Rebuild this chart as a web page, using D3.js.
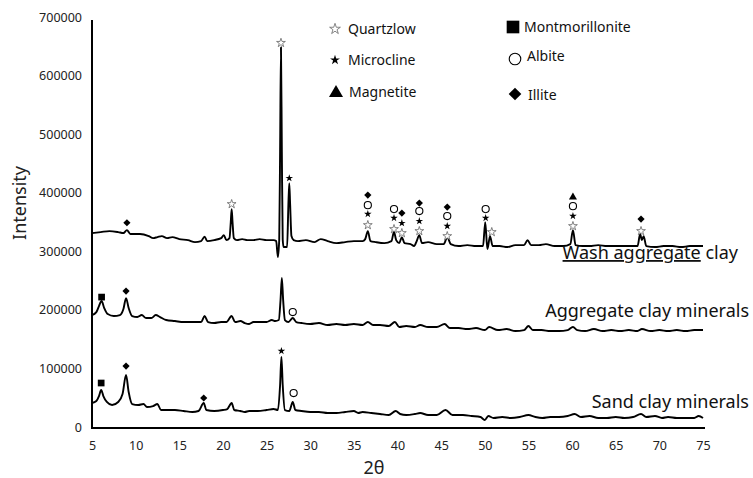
<!DOCTYPE html>
<html>
<head>
<meta charset="utf-8">
<script src="https://cdn.jsdelivr.net/npm/d3@7"></script>
<style>
  html, body { margin: 0; padding: 0; background: #fff; }
  svg { display: block; font-family: "Noto Sans", "Open Sans", sans-serif; }
</style>
</head>
<body>
<svg id="chart" width="753" height="478"></svg>
<script>
// ---------- DATA ----------
const xTicks = [5, 10, 15, 20, 25, 30, 35, 40, 45, 50, 55, 60, 65, 70, 75];
const yTicks = [0, 100000, 200000, 300000, 400000, 500000, 600000, 700000];

const seriesNames = ["Wash aggregate clay", "Aggregate clay minerals", "Sand clay minerals"];

// [2θ, intensity]
const washClay = [
  [5.0,331100],[6.0,332800],[7.0,334500],[8.0,332800],[8.6,331100],[9.0,336200],[9.4,329400],
  [10.5,329400],[11.5,325900],[12.0,322500],[12.5,324200],[13.0,325900],[13.6,322500],[14.2,324200],
  [15.0,320800],[16.0,319100],[16.8,315700],[17.5,317400],[17.9,325000],[18.2,317400],[19.0,319100],
  [19.8,322500],[20.1,327600],[20.4,319100],[20.75,322500],[20.9,350000],[21.0,372000],[21.1,350000],[21.25,322500],
  [21.6,319100],[22.2,320800],[22.8,319100],[23.5,319100],[24.2,320800],[25.0,319100],[25.8,319100],
  [26.1,317400],[26.3,290100],[26.45,320000],[26.55,470000],[26.65,648500],[26.75,470000],[26.85,320000],
  [26.95,307200],[27.35,307200],[27.5,380000],[27.6,416400],[27.7,380000],[27.85,325900],
  [28.1,319100],[28.6,317400],[29.5,319100],[30.5,315700],[31.2,320800],[32.0,317400],[33.0,314000],
  [34.0,315700],[35.0,317400],[36.0,317400],[36.3,320800],[36.6,334500],[36.9,317400],[37.5,315700],
  [38.5,314000],[39.3,317400],[39.6,332800],[39.85,319100],[40.2,314000],[40.5,324200],[40.8,314000],
  [41.5,312300],[41.9,308900],[42.2,317400],[42.5,327600],[42.8,314000],[43.5,315700],[44.5,312300],
  [45.3,312300],[45.7,324200],[46.1,312300],[47.0,308900],[48.0,310600],[49.0,308900],[49.8,308900],
  [50.05,349800],[50.3,303800],[50.6,325900],[50.9,308900],[51.7,308900],[52.6,307200],[53.5,310600],
  [54.5,310600],[54.9,319100],[55.3,310600],[56.2,310600],[57.0,312300],[58.0,308900],[59.0,308900],
  [59.8,312300],[60.1,336200],[60.4,310600],[61.2,308900],[62.0,308900],[63.0,310600],[64.0,308900],
  [65.0,308900],[66.0,308900],[67.0,308900],[67.5,308900],[67.8,329400],[68.0,319100],[68.2,325900],
  [68.5,308900],[69.5,307200],[70.5,308900],[71.5,308900],[72.5,307200],[73.5,308900],[75.0,308900]
];

const aggregateClay = [
  [5.0,191100],[5.5,196200],[5.8,206500],[6.1,215000],[6.4,203100],[6.8,192800],[7.5,189400],
  [8.2,191100],[8.6,201400],[8.9,220100],[9.2,203100],[9.6,189400],[10.2,187700],[10.7,191100],
  [11.2,186000],[11.8,186000],[12.3,191100],[12.8,187700],[13.5,182600],[14.5,180900],[15.5,179200],
  [16.5,179200],[17.5,179200],[17.9,189400],[18.3,179200],[19.0,177500],[19.8,179200],[20.4,179200],
  [21.0,189400],[21.4,179200],[22.0,180900],[22.5,177500],[23.0,175800],[23.5,179200],[24.0,179200],
  [25.0,179200],[25.6,182600],[26.0,180900],[26.4,182600],[26.6,216700],[26.75,254300],[26.9,216700],
  [27.1,182600],[27.5,179200],[28.0,186000],[28.4,179200],[29.0,177500],[30.0,175800],[31.0,177500],
  [32.0,174100],[33.0,175800],[34.0,174100],[35.0,175800],[36.0,174100],[36.6,179200],[37.2,174100],
  [38.0,174100],[39.0,172400],[39.7,179200],[40.2,170700],[41.0,172400],[42.0,170700],[42.6,174100],
  [43.5,170700],[44.5,170700],[45.4,175800],[46.0,168900],[47.0,168900],[48.0,167200],[49.0,168900],
  [50.0,165500],[50.5,170700],[51.5,165500],[52.5,167200],[53.5,163800],[54.5,165500],[55.0,172400],
  [55.5,165500],[56.5,165500],[57.5,163800],[58.5,163800],[59.5,165500],[60.1,170700],[60.6,165500],
  [61.5,163800],[62.5,167200],[63.5,163800],[64.5,165500],[65.5,163800],[66.5,165500],[67.5,163800],
  [68.0,167200],[69.0,163800],[70.0,165500],[71.0,163800],[72.0,165500],[73.0,163800],[74.0,165500],
  [75.0,165500]
];

const sandClay = [
  [5.0,41000],[5.5,44400],[5.8,52900],[6.05,63100],[6.3,52900],[6.7,42700],[7.3,37500],[8.0,42700],
  [8.5,56300],[8.9,88700],[9.2,59700],[9.6,39200],[10.3,37500],[10.9,39200],[11.3,34100],[12.0,35800],
  [12.5,39200],[12.9,29000],[13.5,29000],[14.5,29000],[15.5,27300],[16.5,25600],[17.2,27300],
  [17.8,41000],[18.1,29000],[19.0,27300],[20.0,29000],[20.5,30700],[21.0,41000],[21.3,29000],
  [22.0,27300],[22.5,25600],[23.0,27300],[24.0,27300],[25.0,29000],[25.8,30700],[26.3,29000],
  [26.55,71700],[26.7,119500],[26.85,71700],[27.1,29000],[27.6,27300],[28.0,42700],[28.3,29000],
  [29.0,27300],[30.0,25600],[31.0,25600],[32.0,23900],[33.0,23900],[34.0,25600],[35.0,27300],
  [35.5,23900],[36.0,25600],[37.0,23900],[38.0,22200],[39.0,20500],[39.8,27300],[40.3,22200],
  [41.0,20500],[42.0,22200],[42.6,23900],[43.5,20500],[44.5,20500],[45.5,29000],[46.3,20500],
  [47.5,20500],[48.5,18800],[49.5,17100],[50.0,11900],[50.4,18800],[51.0,15400],[52.0,17100],
  [53.0,15400],[54.0,17100],[55.0,20500],[55.8,17100],[56.6,15400],[57.5,17100],[58.5,17100],
  [59.5,18800],[60.3,22200],[61.0,17100],[62.0,18800],[63.0,15400],[64.0,15400],[65.0,17100],
  [66.0,15400],[67.0,17100],[67.9,22200],[68.5,17100],[69.5,18800],[70.3,15400],[71.0,17100],
  [72.0,15400],[73.0,15400],[74.0,15400],[74.5,18800],[75.0,15400]
];

// phase markers: [type, 2θ, intensity]
const washMarkers = [
  ["illite",9.0,348700],["quartz",21.0,380600],["quartz",26.65,655800],["microcline",27.6,424900],
  ["quartz",36.6,344700],["microcline",36.6,363500],["albite",36.6,378800],["illite",36.6,395900],
  ["quartz",39.6,337900],["microcline",39.6,356700],["albite",39.6,372000],
  ["quartz",40.5,331100],["microcline",40.5,348100],["illite",40.5,365200],
  ["quartz",42.5,334500],["microcline",42.5,351500],["albite",42.5,368600],["illite",42.5,382300],
  ["quartz",45.7,325900],["microcline",45.7,343000],["albite",45.7,360100],["illite",45.7,375400],
  ["microcline",50.1,356700],["albite",50.1,372000],["quartz",50.8,332800],
  ["quartz",60.1,343000],["microcline",60.1,360100],["albite",60.1,377100],["magnetite",60.1,392500],
  ["quartz",67.9,334500],["illite",67.9,355000]
];
const aggregateMarkers = [
  ["montmorillonite",6.1,221800],["illite",8.9,232100],["albite",28.0,196200]
];
const sandMarkers = [
  ["montmorillonite",6.05,75100],["illite",8.9,104100],["illite",17.8,49500],
  ["microcline",26.7,129700],["albite",28.1,58000]
];

const legendLabels = ["Quartzlow", "Microcline", "Magnetite", "Montmorillonite", "Albite", "Illite"];
const legendTypes = ["quartz", "microcline", "magnetite", "montmorillonite", "albite", "illite"];

// ---------- DRAW ----------
const svg = d3.select("#chart");
const x = d3.scaleLinear().domain([5, 75]).range([92, 703]);
const y = d3.scaleLinear().domain([0, 700000]).range([427, 17]);

// axes
const xAxis = svg.append("g").attr("transform", "translate(0,428)")
  .call(d3.axisBottom(x).tickValues(xTicks).tickSize(0).tickPadding(13).tickFormat(d3.format("d")));
const yAxis = svg.append("g").attr("transform", "translate(92,0)")
  .call(d3.axisLeft(y).tickValues(yTicks).tickSize(0).tickPadding(10).tickFormat(d3.format("d")));
[xAxis, yAxis].forEach(a => {
  a.select(".domain").attr("stroke", "#000").attr("stroke-width", 2);
  a.selectAll("text").attr("font-family", "'Noto Sans', sans-serif").attr("font-size", 12.5).attr("fill", "#222");
});
xAxis.select(".domain").attr("d", `M${x(5)},0H${x(75) + 2}`);
yAxis.select(".domain").attr("d", `M0,${y(700000) + 3}V${y(0) + 2}`);

// axis titles
svg.append("text").attr("transform", "translate(26,203) rotate(-90)")
  .attr("text-anchor", "middle").attr("font-size", 18).attr("fill", "#222").text("Intensity");
svg.append("text").attr("x", 374).attr("y", 474)
  .attr("text-anchor", "middle").attr("font-size", 18).attr("fill", "#222").text("2θ");

// series lines
const line = d3.line().x(d => x(d[0])).y(d => y(d[1])).curve(d3.curveMonotoneX);
[washClay, aggregateClay, sandClay].forEach(s => {
  svg.append("path").datum(s).attr("d", line)
    .attr("fill", "none").attr("stroke", "#000").attr("stroke-width", 1.9).attr("stroke-linejoin", "round");
});

// marker drawing
function symbolFor(type, big) {
  const k = big ? 1 : 0;
  switch (type) {
    case "quartz": return { sym: d3.symbolStar, size: [24, 36][k], fill: "#fff", stroke: "#666", rot: 0 };
    case "microcline": return { sym: d3.symbolStar, size: [18, 30][k], fill: "#000", stroke: "none", rot: 0 };
    case "magnetite": return { sym: d3.symbolTriangle, size: [28, 85][k], fill: "#000", stroke: "none", rot: 0 };
    case "montmorillonite": return { sym: d3.symbolSquare, size: [45, 160][k], fill: "#000", stroke: "none", rot: 0 };
    case "albite": return { sym: d3.symbolCircle, size: [40, 105][k], fill: "#fff", stroke: "#000", rot: 0 };
    case "illite": return { sym: d3.symbolSquare, size: [26, 80][k], fill: "#000", stroke: "none", rot: 45 };
  }
}
function drawMarker(g, type, cx, cy, big) {
  const s = symbolFor(type, big);
  g.append("path")
    .attr("d", d3.symbol().type(s.sym).size(s.size)())
    .attr("transform", `translate(${cx},${cy}) rotate(${s.rot})`)
    .attr("fill", s.fill).attr("stroke", s.stroke)
    .attr("stroke-width", type === "albite" ? 1.1 : 0.8);
}
const mg = svg.append("g");
[washMarkers, aggregateMarkers, sandMarkers].forEach(list => {
  list.forEach(m => drawMarker(mg, m[0], x(m[1]), y(m[2]), false));
});

// legend
const legendPos = [[335, 29], [335, 60], [336, 93], [513, 27], [515, 59], [515, 94]];
const legendTextX = [348, 348, 349, 524, 527, 528];
const legendTextY = [29, 60, 92, 27, 56, 95];
legendTypes.forEach((t, i) => {
  drawMarker(svg, t, legendPos[i][0], legendPos[i][1], true);
  svg.append("text").attr("x", legendTextX[i]).attr("y", legendTextY[i]).attr("dy", "0.35em")
    .attr("font-size", 14).attr("fill", "#111").text(legendLabels[i]);
});

// series labels
const labelY = [259, 317, 408];
seriesNames.forEach((n, i) => {
  const t = svg.append("text").attr("x", i === 0 ? 738 : 749).attr("y", labelY[i])
    .attr("text-anchor", "end").attr("font-size", 18).attr("fill", "#111");
  if (i === 0) {
    t.append("tspan").attr("text-decoration", "underline").text("Wash aggregate");
    t.append("tspan").text(" clay");
  } else {
    t.text(n);
  }
});
</script>
</body>
</html>
